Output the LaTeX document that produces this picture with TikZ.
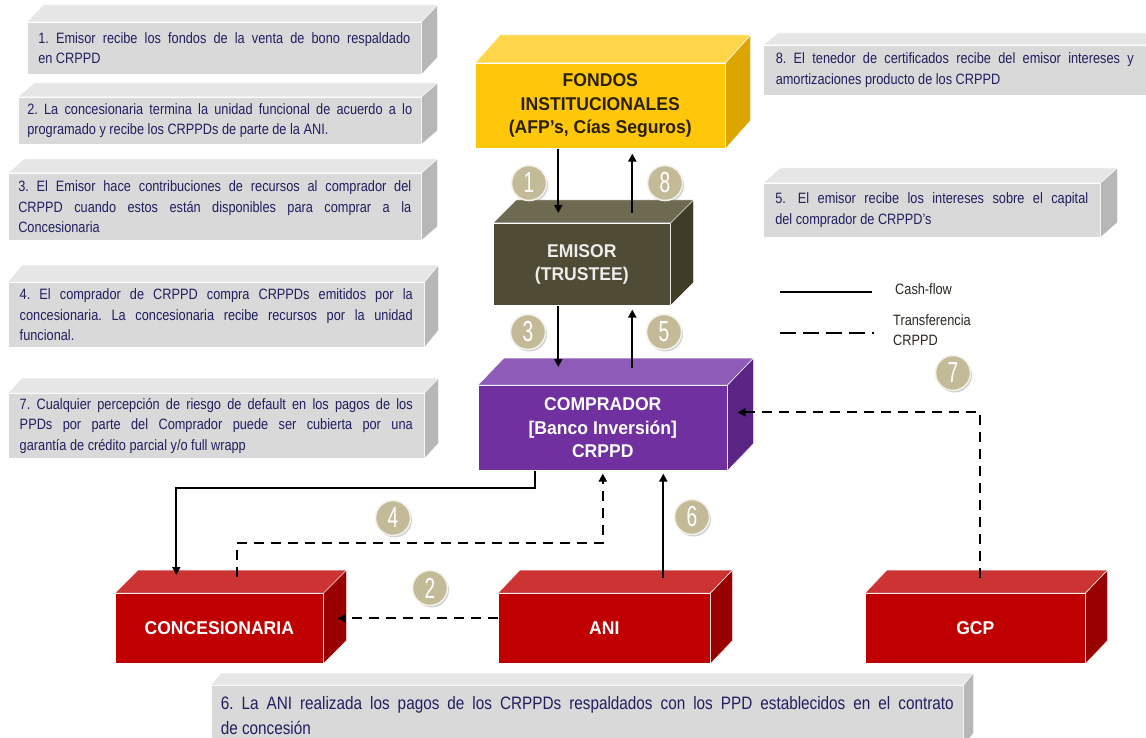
\documentclass[tikz,border=0pt]{standalone}
\usepackage{fontspec}
\setmainfont{Liberation Sans}[FakeStretch=0.95]
\newfontfamily\notefont{Liberation Sans}[FakeStretch=0.85]
\newfontfamily\digitfont{Liberation Sans}[FakeStretch=0.66]
\usetikzlibrary{arrows.meta,shadows}
\definecolor{notefront}{HTML}{D9D9D9}
\definecolor{notetop}{HTML}{E6E6E6}
\definecolor{noteside}{HTML}{B7B7B7}
\definecolor{notetext}{HTML}{1F1F5F}
\definecolor{yfront}{HTML}{FFC70A}
\definecolor{ytop}{HTML}{FFD64A}
\definecolor{yside}{HTML}{DDA500}
\definecolor{ytext}{HTML}{2A2000}
\definecolor{efront}{HTML}{4F4B34}
\definecolor{etop}{HTML}{6E6A52}
\definecolor{eside}{HTML}{3F3C28}
\definecolor{pfront}{HTML}{7030A0}
\definecolor{ptop}{HTML}{8E5CB8}
\definecolor{pside}{HTML}{5B2586}
\definecolor{rfront}{HTML}{C00000}
\definecolor{rtop}{HTML}{CC3333}
\definecolor{rside}{HTML}{990000}
\definecolor{circfill}{HTML}{C3BB98}
\definecolor{legtext}{HTML}{2B2620}
\newcommand\cubefaces[5]{%
  \filldraw[fill=#2,draw=white,line width=0.5pt] (#1.north west) -- ++(#4,#5) -- ([shift={(#4,#5)}]#1.north east) -- (#1.north east) -- cycle;
  \filldraw[fill=#3,draw=white,line width=0.5pt] (#1.north east) -- ++(#4,#5) -- ([shift={(#4,#5)}]#1.south east) -- (#1.south east) -- cycle;}
\tikzset{
  notebox/.style={fill=notefront, draw=white, line width=0.5pt, inner sep=0pt, anchor=north west,
    font=\notefont\fontsize{15}{20.5}\selectfont\frenchspacing, text=notetext, align=justify},
  mainbox/.style={draw=white, line width=0.6pt, inner sep=0pt, anchor=north west, align=center,
    font=\fontsize{18.5}{23.5}\selectfont\bfseries},
  numcirc/.style={circle, fill=circfill, draw=white!80!circfill, line width=1.5pt, minimum size=35pt,
    inner sep=0pt, text=white, font=\digitfont\fontsize{29}{29}\selectfont,
    drop shadow={shadow xshift=1.5pt, shadow yshift=-2pt, opacity=0.35}},
  flow/.style={line width=2.2pt, -{Triangle[length=8pt,width=8pt]}},
  transfer/.style={flow, dash pattern=on 10pt off 7pt},
  legline/.style={line width=2.5pt},
  legtxt/.style={anchor=west, inner sep=0pt, align=left, text=legtext, font=\notefont\fontsize{15}{20}\selectfont}
}
\begin{document}
\frenchspacing
\begin{tikzpicture}[x=1pt,y=-1pt]
\useasboundingbox[fill=white] (0,0) rectangle (1146,738);

% ---------- note boxes ----------
\node[notebox, minimum width=394pt, minimum height=52pt, text width=372pt] (n1) at (27,22)
  {1. Emisor recibe los fondos de la venta de bono respaldado\linebreak en CRPPD};
\cubefaces{n1}{notetop}{noteside}{16}{-17}
\node[notebox, minimum width=403pt, minimum height=47pt, text width=385pt] (n2) at (18,97)
  {2. La concesionaria termina la unidad funcional de acuerdo a lo\linebreak programado y recibe los CRPPDs de parte de la ANI.};
\cubefaces{n2}{notetop}{noteside}{16}{-14}
\node[notebox, minimum width=413pt, minimum height=67pt, text width=393pt] (n3) at (8,173)
  {3. El Emisor hace contribuciones de recursos al comprador del\linebreak CRPPD cuando estos están disponibles para comprar a la\linebreak Concesionaria};
\cubefaces{n3}{notetop}{noteside}{16}{-14}
\node[notebox, minimum width=416pt, minimum height=65pt, text width=393pt] (n4) at (8,282)
  {4. El comprador de CRPPD compra CRPPDs emitidos por la\linebreak concesionaria. La concesionaria recibe recursos por la unidad\linebreak funcional.};
\cubefaces{n4}{notetop}{noteside}{14}{-17}
\node[notebox, minimum width=416pt, minimum height=65pt, text width=393pt] (n7) at (8,393)
  {7. Cualquier percepción de riesgo de default en los pagos de los\linebreak PPDs por parte del Comprador puede ser cubierta por una\linebreak garantía de crédito parcial y/o full wrapp};
\cubefaces{n7}{notetop}{noteside}{14}{-15}
\node[notebox, minimum width=383pt, minimum height=50pt, text width=358pt] (n8) at (763,45)
  {8. El tenedor de certificados recibe del emisor intereses y\linebreak amortizaciones producto de los CRPPD};
\filldraw[fill=notetop,draw=white,line width=0.5pt] (n8.north west) -- ++(15,-12) -- ([yshift=12pt]n8.north east) -- (n8.north east) -- cycle;
\node[notebox, minimum width=337pt, minimum height=54pt, text width=313pt] (n5) at (763,183)
  {5.\hspace{12pt}El emisor recibe los intereses sobre el capital\linebreak del comprador de CRPPD’s};
\cubefaces{n5}{notetop}{noteside}{17}{-15}
\node[notebox, minimum width=752pt, minimum height=60pt, text width=733pt, font=\notefont\fontsize{18}{25}\selectfont\frenchspacing] (n6) at (211,685)
  {6. La ANI realizada los pagos de los CRPPDs respaldados con los PPD establecidos en el contrato\linebreak de concesión};
\cubefaces{n6}{notetop}{noteside}{10}{-12}

% ---------- main boxes ----------
\node[mainbox, fill=yfront, text=ytext, minimum width=250pt, minimum height=85pt] (fondos) at (475,63)
  {FONDOS\\INSTITUCIONALES\\(AFP’s, Cías Seguros)};
\cubefaces{fondos}{ytop}{yside}{25}{-28}
\node[mainbox, fill=efront, text=white!93!black, minimum width=177pt, minimum height=82pt] (emisor) at (493,223)
  {EMISOR\\(TRUSTEE)};
\cubefaces{emisor}{etop}{eside}{23}{-23}
\node[mainbox, fill=pfront, text=white, minimum width=249pt, minimum height=85pt] (comprador) at (478,385)
  {COMPRADOR\\{}[Banco Inversión]\\CRPPD};
\cubefaces{comprador}{ptop}{pside}{26}{-27}
\node[mainbox, fill=rfront, text=white, minimum width=208pt, minimum height=70pt] (conc) at (115,593)
  {CONCESIONARIA};
\cubefaces{conc}{rtop}{rside}{23}{-23}
\node[mainbox, fill=rfront, text=white, minimum width=212pt, minimum height=70pt] (ani) at (498,593)
  {ANI};
\cubefaces{ani}{rtop}{rside}{22}{-23}
\node[mainbox, fill=rfront, text=white, minimum width=220pt, minimum height=70pt] (gcp) at (865,593)
  {GCP};
\cubefaces{gcp}{rtop}{rside}{22}{-23}

% ---------- connectors ----------
\draw[flow] ([xshift=-42pt]fondos.south) -- ([xshift=-23.5pt,yshift=10pt]emisor.north);
\draw[flow] ([xshift=50.5pt,yshift=10pt]emisor.north) -- ([xshift=32pt,yshift=-5pt]fondos.south);
\draw[flow] ([xshift=-23.5pt]emisor.south) -- ([xshift=-44.5pt,yshift=18pt]comprador.north);
\draw[flow] ([xshift=29.5pt,yshift=17pt]comprador.north) -- ([xshift=50.5pt,yshift=-4pt]emisor.south);
\draw[flow] ([xshift=-67.5pt]comprador.south) -- ++(0,17) -| ([xshift=-43pt,yshift=18pt]conc.north);
\draw[transfer] ([xshift=18pt,yshift=16pt]conc.north) -- ++(0,-34) -| ([yshift=-3pt]comprador.south);
\draw[transfer] ([yshift=10pt]ani.west) -- ([xshift=14pt,yshift=10pt]conc.east);
\draw[flow] ([xshift=59pt,yshift=15pt]ani.north) -- ([xshift=60.5pt,yshift=-3pt]comprador.south);
\draw[transfer] ([xshift=5pt,yshift=15pt]gcp.north) |- ([xshift=10pt,yshift=15.5pt]comprador.east);

% ---------- number circles ----------
\node[numcirc] (c1) at (529,183) {1};
\node[numcirc] (c8) at (665,183) {8};
\node[numcirc] (c3) at (528,332) {3};
\node[numcirc] (c5) at (664,332) {5};
\node[numcirc] (c4) at (393,518) {4};
\node[numcirc] (c2) at (430,588) {2};
\node[numcirc] (c6) at (692,517) {6};
\node[numcirc] (c7) at (953,373) {7};

% ---------- legend ----------
\coordinate (la) at (780,292);
\coordinate (lb) at (872,292);
\coordinate (lc) at (780,333);
\coordinate (ld) at (874,333);
\draw[legline] (la) -- (lb);
\draw[legline, dash pattern=on 16pt off 7pt] (lc) -- (ld);
\node[legtxt] (lt1) at (895,289) {Cash-flow};
\node[legtxt] (lt2) at (893,330) {Transferencia\\CRPPD};
\end{tikzpicture}
\end{document}
